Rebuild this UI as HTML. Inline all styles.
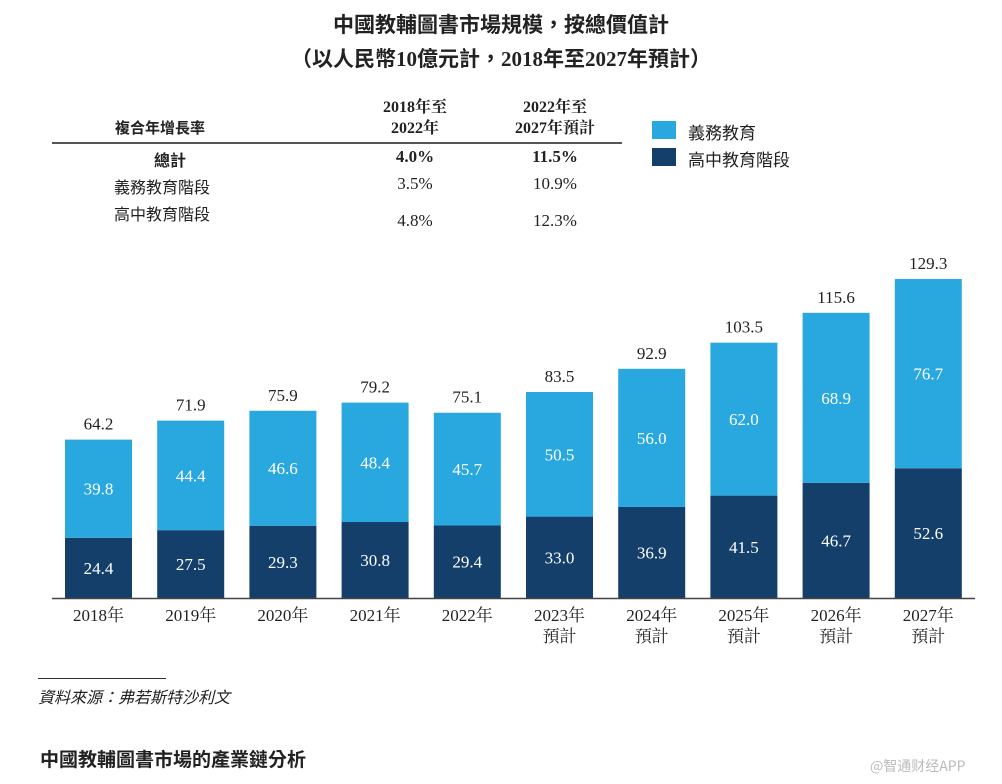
<!DOCTYPE html>
<html><head><meta charset="utf-8">
<style>
body{margin:0;background:#fff;width:1002px;height:784px;overflow:hidden;font-family:"Liberation Serif","Noto Serif CJK TC","Noto Sans CJK TC",serif;color:#222}
.abs{position:absolute;white-space:nowrap}
.c{text-align:center;width:110px}
</style></head><body>
<div class="abs" style="left:0;top:8px;width:1002px;text-align:center;font-size:21px;font-weight:bold;line-height:34px;font-family:'Liberation Serif','Noto Sans CJK TC',serif">中國教輔圖書市場規模，按總價值計<br>（以人民幣10億元計，2018年至2027年預計）</div>

<div>
<div class="abs" style="left:115px;top:117px;font-size:15px;font-weight:bold;font-family:'Noto Sans CJK TC',sans-serif">複合年增長率</div>
<div class="abs c" style="left:360px;top:97px;font-size:16px;font-weight:bold;line-height:21px">2018年至<br>2022年</div>
<div class="abs c" style="left:500px;top:97px;font-size:16px;font-weight:bold;line-height:21px">2022年至<br>2027年預計</div>
<div class="abs" style="left:52px;top:142px;height:2px;background:#555;width:570px"></div>
<div class="abs" style="left:154px;top:147px;font-size:16px;font-weight:bold;font-family:'Noto Sans CJK TC',sans-serif">總計</div>
<div class="abs c" style="left:360px;top:147px;font-size:17px;font-weight:bold">4.0%</div>
<div class="abs c" style="left:500px;top:147px;font-size:17px;font-weight:bold">11.5%</div>
<div class="abs" style="left:114px;top:174px;font-size:16px;font-family:'Noto Sans CJK TC',sans-serif">義務教育階段</div>
<div class="abs c" style="left:360px;top:174px;font-size:17px">3.5%</div>
<div class="abs c" style="left:500px;top:174px;font-size:17px">10.9%</div>
<div class="abs" style="left:114px;top:201px;font-size:16px;font-family:'Noto Sans CJK TC',sans-serif">高中教育階段</div>
<div class="abs c" style="left:360px;top:211px;font-size:17px">4.8%</div>
<div class="abs c" style="left:500px;top:211px;font-size:17px">12.3%</div>
</div>

<div>
<div class="abs" style="left:652px;top:121px;width:24px;height:18px;background:#29a8e0"></div>
<div class="abs" style="left:688px;top:119px;font-size:17px;font-family:'Noto Sans CJK TC',sans-serif">義務教育</div>
<div class="abs" style="left:652px;top:148px;width:24px;height:18px;background:#143f6b"></div>
<div class="abs" style="left:688px;top:146px;font-size:17px;font-family:'Noto Sans CJK TC',sans-serif">高中教育階段</div>
</div>

<svg class="abs" style="left:0;top:0" width="1002" height="784" id="chart"></svg>

<div class="abs" style="left:38px;top:678px;width:128px;height:1px;background:#333"></div>
<div class="abs" style="left:38px;top:684px;font-size:16px;font-style:italic;font-family:'Noto Sans CJK TC',sans-serif">資料來源：弗若斯特沙利文</div>
<div class="abs" style="left:40px;top:745px;font-size:19px;font-weight:bold;font-family:'Noto Sans CJK TC',sans-serif">中國教輔圖書市場的產業鏈分析</div>
<div class="abs" style="left:870px;top:756px;font-size:14px;color:#bbb;font-family:'Noto Sans CJK SC',sans-serif">@智通财经APP</div>

<script>
const years = ["2018年","2019年","2020年","2021年","2022年","2023年","2024年","2025年","2026年","2027年"];
const forecast = [false,false,false,false,false,true,true,true,true,true];
const highSchool = [24.4,27.5,29.3,30.8,29.4,33.0,36.9,41.5,46.7,52.6];
const compulsory = [39.8,44.4,46.6,48.4,45.7,50.5,56.0,62.0,68.9,76.7];
const totals = [64.2,71.9,75.9,79.2,75.1,83.5,92.9,103.5,115.6,129.3];

const svg = document.getElementById('chart');
const NS = 'http://www.w3.org/2000/svg';
const base = 598, x0 = 98.5, pitch = 92.2, bw = 67;
const yScale = v => base - v * 2.467;
const xScale = i => x0 + i * pitch;
function mk(tag, attrs, text){
  const e = document.createElementNS(NS, tag);
  for (const k in attrs) e.setAttribute(k, attrs[k]);
  if (text !== undefined) e.textContent = text;
  svg.appendChild(e);
  return e;
}
years.forEach((yr, i) => {
  const cx = xScale(i);
  const hTop = yScale(highSchool[i]);
  const cTop = yScale(highSchool[i] + compulsory[i]);
  const r1 = mk('rect', {x: cx - bw/2, y: hTop, width: bw, height: base - hTop, fill: '#143f6b'});
  
  
  const r2 = mk('rect', {x: cx - bw/2, y: cTop, width: bw, height: hTop - cTop, fill: '#29a8e0'});
  
  
  const t1 = mk('text', {x: cx, y: (hTop + base)/2 + 6, 'text-anchor': 'middle', 'font-size': 17, fill: '#fff', 'font-family': 'Liberation Serif, serif'}, highSchool[i].toFixed(1));
  
  
  const t2 = mk('text', {x: cx, y: (cTop + hTop)/2 + 6, 'text-anchor': 'middle', 'font-size': 17, fill: '#fff', 'font-family': 'Liberation Serif, serif'}, compulsory[i].toFixed(1));
  
  
  const t3 = mk('text', {x: cx, y: cTop - 10, 'text-anchor': 'middle', 'font-size': 17, fill: '#222', 'font-family': 'Liberation Serif, serif'}, totals[i].toFixed(1));
  
  
  const t4 = mk('text', {x: cx, y: 621, 'text-anchor': 'middle', 'font-size': 17, fill: '#222', 'font-family': 'Liberation Serif, Noto Serif CJK TC, serif'}, yr);
  
  
  if (forecast[i]) {
    const t5 = mk('text', {x: cx, y: 642, 'text-anchor': 'middle', 'font-size': 17, fill: '#222', 'font-family': 'Noto Serif CJK TC, serif'}, '預計');
    
    
  }
});
const ax = mk('line', {x1: 52, y1: base + 0.5, x2: 975, y2: base + 0.5, stroke: '#444', 'stroke-width': 1.5});


</script>
</body></html>
